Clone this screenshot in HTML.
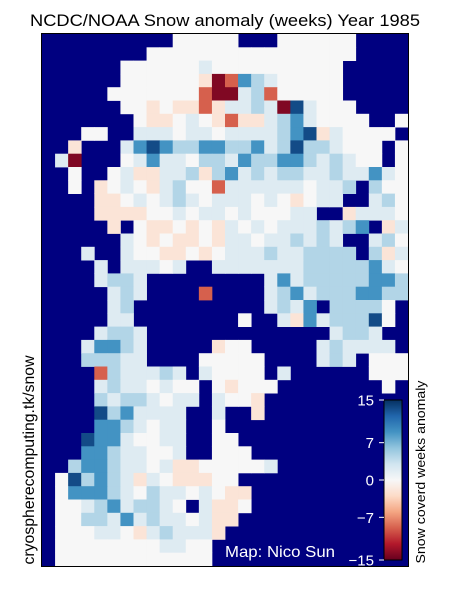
<!DOCTYPE html>
<html><head><meta charset="utf-8"><style>
body{margin:0;background:#fff;width:450px;height:600px;overflow:hidden;font-family:"Liberation Sans","DejaVu Sans",sans-serif;}
svg{position:absolute;left:0;top:0}
</style></head><body>
<svg id="chart" width="450" height="600" viewBox="0 0 450 600">
<text x="225" y="26" text-anchor="middle" font-size="17" textLength="390" lengthAdjust="spacingAndGlyphs" fill="#000">NCDC/NOAA Snow anomaly (weeks) Year 1985</text>
<rect x="42" y="34" width="366" height="532" fill="#000080"/>
<g id="cells"></g>
<rect x="41.5" y="33.5" width="367" height="533" fill="none" stroke="#000" stroke-width="1"/>
<text x="225" y="557" font-size="16" textLength="110" lengthAdjust="spacingAndGlyphs" fill="#fff">Map: Nico Sun</text>
<defs><linearGradient id="cbg" x1="0" y1="1" x2="0" y2="0">
<stop offset="0" stop-color="#67001f"/><stop offset="0.1" stop-color="#b2182b"/><stop offset="0.2" stop-color="#d6604d"/><stop offset="0.3" stop-color="#f4a582"/><stop offset="0.4" stop-color="#fddbc7"/><stop offset="0.5" stop-color="#f7f7f7"/><stop offset="0.6" stop-color="#d1e5f0"/><stop offset="0.7" stop-color="#92c5de"/><stop offset="0.8" stop-color="#4393c3"/><stop offset="0.9" stop-color="#2166ac"/><stop offset="1" stop-color="#053061"/>
</linearGradient></defs>
<rect x="384" y="400" width="18" height="160" fill="url(#cbg)" stroke="#000" stroke-width="1"/>
<g id="cbticks"></g>
<text transform="translate(425,472) rotate(-90)" text-anchor="middle" font-size="13" textLength="183" lengthAdjust="spacingAndGlyphs" fill="#000">Snow coverd weeks anomaly</text>
<text transform="translate(34,460) rotate(-90)" text-anchor="middle" font-size="15.5" textLength="209" lengthAdjust="spacingAndGlyphs" fill="#000">cryospherecomputing.tk/snow</text>
</svg>
<script>
const gridRows = [
"..........wwwww...wwwwww....",
"........wwwwwwwwwwwwwwww....",
"......wwwwwwpwwwwwwwwww.....",
"......wwwwwwoRrmlpwwwww.....",
".....wwwwwwwrRRplrwwwww.....",
"......wwowooropplpRdpwww....",
".......woowpworooplmpwwww..w",
"...ww..pppwppwpppplmdopwwww.",
"..o...pmdmllmmllmpldllpwww.w",
".pR...wpmppwllpmllmmlplpww.w",
"..w..wpoopplolmplpllpplppmpw",
"..w.owpwoplwwrppppppwppl.lww",
"....oowpwplpwpppwpwowpp..plw",
"....oooowwpwppwpwwwpp..opppw",
".....o.woowowopwpwppplplm.op",
"......pwowoowoppwpplplp..plw",
"...p..pwwoowowppplppllll.lop",
"....p.pppwp..ppppppplllllmpw",
"....pllp.........pmplllllmml",
".....plp....r....plmplllmmll",
".....pl..........plpm.llllw.",
".....pp........w..pompllldw.",
"....pllp..............pllp..",
"...pmmlp.....oww.....plpppp.",
"...lllpp....wwwww....plp.www",
"....rlppplp.pwwww.p......www",
"....plppwpww.wowww........w.",
"....lpllpwpp.pwwo...........",
"....dlmpppp..p..o...........",
"....mmlpwpp..w..............",
"...dmmpwwpp..ww.............",
"...mmlppwwp..www............",
"..lmmlppwpoowwwwwp..........",
".wdlmlpopwoooww.............",
".wmmmlpwlppwpwoo............",
".wwplmpllpw.poow............",
".wwllpmplppwpoo.............",
".wwwppwoplpppo..............",
".wwwwwwwwppww...............",
".wwwwwwwwwwww..............."
];
const codes = ["w","p","l","m","d","o","r","R"];
const anomalies = [0, 2, 4.5, 9, 13.5, -2, -9, -14];
const cbTicks = [15, 7, 0, -7, -15];
const cbLabels = ["15", "7", "0", "\u22127", "\u221215"];

const stops = ["#67001f","#b2182b","#d6604d","#f4a582","#fddbc7","#f7f7f7","#d1e5f0","#92c5de","#4393c3","#2166ac","#053061"];
function hex(c){return [1,3,5].map(i=>parseInt(c.substr(i,2),16));}
function cmap(v){
  let t=(Math.max(-15,Math.min(15,v))+15)/30*(stops.length-1);
  let i=Math.min(stops.length-2,Math.floor(t)), f=t-i;
  let a=hex(stops[i]), b=hex(stops[i+1]);
  return "rgb("+a.map((x,k)=>Math.round(x+(b[k]-x)*f)).join(",")+")";
}
const X0=42, Y0=34, W=366, H=532, NC=28, NR=40;
const cw=W/NC, ch=H/NR;
const xCell=c=>X0+c*cw, yCell=r=>Y0+r*ch;
const ns="http://www.w3.org/2000/svg";
const g=document.getElementById("cells");
gridRows.forEach((row,r)=>{
  for(let c=0;c<NC && c<row.length;c++){
    const k=codes.indexOf(row[c]);
    if(k<0) continue;
    const el=document.createElementNS(ns,"rect");
    el.setAttribute("x",xCell(c).toFixed(2));
    el.setAttribute("y",yCell(r).toFixed(2));
    el.setAttribute("width",(cw+0.4).toFixed(2));
    el.setAttribute("height",(ch+0.4).toFixed(2));
    el.setAttribute("fill",cmap(anomalies[k]));
    
    
    g.appendChild(el);
  }
});
const cbY=v=>560-(v+15)/30*160;
const tg=document.getElementById("cbticks");
cbTicks.forEach((v,i)=>{
  const y=cbY(v);
  const ln=document.createElementNS(ns,"line");
  ln.setAttribute("x1",379);ln.setAttribute("x2",384);
  ln.setAttribute("y1",y);ln.setAttribute("y2",y);
  ln.setAttribute("stroke","#fff");
  
  
  tg.appendChild(ln);
  const t=document.createElementNS(ns,"text");
  t.setAttribute("x",374);t.setAttribute("y",y+5.5);
  t.setAttribute("text-anchor","end");t.setAttribute("font-size","15");
  t.setAttribute("fill","#fff");
  t.textContent=cbLabels[i];
  
  
  tg.appendChild(t);
});
</script>
</body></html>
